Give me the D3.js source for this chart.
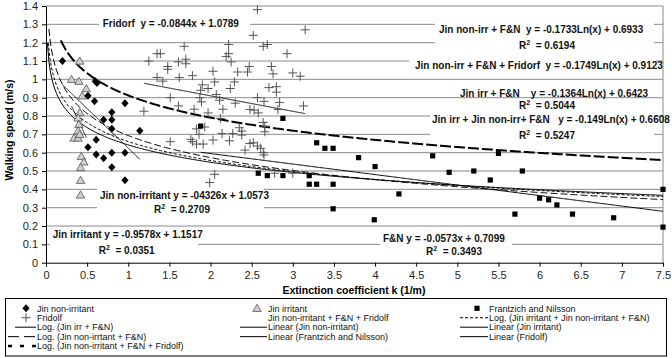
<!DOCTYPE html>
<html>
<head>
<meta charset="utf-8">
<script src="https://cdn.jsdelivr.net/npm/d3@7"></script>
<style>
body { margin: 0; background: #fff; }
svg { font-family: "Liberation Sans", Arial, sans-serif; }
</style>
</head>
<body>
<svg id="chart"></svg>
<script>
const width = 672;
const height = 358;

// points: [k (1/m), walking speed (m/s)]
const jinNonIrritant = [
  [0.20, 1.10], [0.60, 0.99], [0.62, 0.98], [0.51, 0.91], [0.59, 0.88], [0.96, 0.87],
  [0.80, 0.82], [0.80, 0.78], [0.70, 0.78], [0.80, 0.73], [1.14, 0.72], [0.61, 0.67],
  [0.51, 0.63], [0.61, 0.59], [0.70, 0.57], [0.80, 0.60], [0.96, 0.60], [0.80, 0.52],
  [0.96, 0.45]
];
const jinIrritant = [
  [0.41, 1.10], [0.31, 1.00], [0.40, 0.99], [0.49, 0.95], [0.44, 0.91], [0.41, 0.82],
  [0.39, 0.79], [0.40, 0.755], [0.39, 0.72], [0.34, 0.68], [0.39, 0.68], [0.41, 0.70],
  [0.43, 0.58], [0.46, 0.55], [0.42, 0.52], [0.42, 0.45], [0.42, 0.37]
];
const fridolf = [
  [2.57, 1.38], [3.15, 1.27], [2.52, 1.24], [2.22, 1.19], [1.68, 1.18], [2.64, 1.18],
  [2.69, 1.19], [1.35, 1.14], [1.39, 1.14], [2.19, 1.125], [2.22, 1.14], [2.93, 1.14],
  [1.61, 1.095], [1.70, 1.11], [1.70, 1.085], [2.25, 1.095], [2.47, 1.07], [2.74, 1.07],
  [1.48, 1.07], [1.48, 1.055], [2.03, 1.044], [2.33, 1.04], [2.45, 1.04], [2.76, 1.03],
  [3.00, 1.035], [3.09, 1.017], [1.35, 1.01], [1.42, 0.99], [1.62, 1.01], [1.78, 1.02],
  [2.05, 0.986], [2.29, 0.986], [2.24, 0.95], [1.90, 0.97], [1.97, 0.95], [1.88, 0.94],
  [2.07, 0.917], [2.71, 0.955], [2.80, 0.96], [2.80, 0.93], [1.51, 0.90], [1.87, 0.90],
  [1.89, 0.877], [2.11, 0.886], [2.30, 0.87], [2.57, 0.90], [2.65, 0.88], [2.84, 0.874],
  [3.13, 0.855], [1.61, 0.855], [1.80, 0.837], [2.15, 0.837], [2.12, 0.787], [2.48, 0.836],
  [2.53, 0.832], [2.58, 0.817], [2.82, 0.836], [1.97, 0.817], [2.64, 0.765], [2.66, 0.745],
  [2.66, 0.714], [1.83, 0.73], [1.93, 0.74], [1.86, 0.70], [2.14, 0.705], [2.27, 0.705],
  [2.35, 0.736], [2.38, 0.718], [2.38, 0.696], [1.51, 0.66], [1.76, 0.673], [1.78, 0.66],
  [1.83, 0.647], [1.91, 0.647], [2.03, 0.669], [2.23, 0.665], [2.48, 0.65], [2.52, 0.654],
  [2.57, 0.636], [2.61, 0.624], [2.64, 0.60], [2.65, 0.587], [2.42, 0.614], [2.78, 0.488],
  [3.00, 0.488], [2.05, 0.482], [1.99, 0.437], [1.25, 1.10], [1.19, 0.826]
];
const frantzichNilsson = [
  [1.88, 0.745], [2.88, 0.787], [3.29, 0.654], [3.39, 0.624], [3.49, 0.624], [2.58, 0.488],
  [2.69, 0.475], [2.88, 0.475], [3.20, 0.475], [3.20, 0.428], [3.29, 0.428], [3.49, 0.428],
  [3.80, 0.573], [4.00, 0.524], [4.70, 0.583], [4.90, 0.493], [5.20, 0.50], [5.40, 0.451],
  [5.50, 0.596], [5.79, 0.50], [4.29, 0.375], [3.49, 0.294], [3.99, 0.234], [5.70, 0.265],
  [6.00, 0.352], [6.11, 0.343], [6.21, 0.315], [6.40, 0.265], [6.90, 0.245], [7.50, 0.40],
  [7.50, 0.194]
];

const xTicks = [0, 0.5, 1, 1.5, 2, 2.5, 3, 3.5, 4, 4.5, 5, 5.5, 6, 6.5, 7, 7.5];
const yTicks = [0, 0.1, 0.2, 0.3, 0.4, 0.5, 0.6, 0.7, 0.8, 0.9, 1, 1.1, 1.2, 1.3, 1.4];

// trendlines as printed on the chart: [coefficient, intercept], and drawn k range
const fridolfFit = [-0.0844, 1.0789];          const fridolfRange = [1.19, 3.15];
const jinNonIrrFit = [-0.4326, 1.0573];        const jinNonIrrRange = [0.20, 1.14];
const jinIrrFit = [-0.9578, 1.1517];           const jinIrrRange = [0.31, 0.49];
const fnFit = [-0.0573, 0.7099];               const fnRange = [1.88, 7.5];
const logJinIrrFN = [-0.1364, 0.6423];         const logJinIrrFNRange = [0.017, 7.5];
const logJinNonIrrFN = [-0.1733, 0.6933];      const logJinNonIrrFNRange = [0.035, 7.5];
const logJinNonIrrFNFri = [-0.1749, 0.9123];   const logJinNonIrrFNFriRange = [0.18, 7.5];
const logAllJinFN = [-0.149, 0.6608];          const logAllJinFNRange = [0.027, 7.5];

const legendLabels = [
  'Jin non-irritant', 'Jin irritant', 'Frantzich and Nilsson',
  'Fridolf', 'Jin non-irritant + F&N + Fridolf', 'Log. (Jin irritant + Jin non-irritant + F&N)',
  'Log. (Jin irr + F&N)', 'Linear (Jin non-irritant)', 'Linear (Jin irritant)',
  'Log. (Jin non-irrtant + F&N)', 'Linear (Frantzich and Nilsson)', 'Linear (Fridolf)',
  'Log. (Jin non-irritant + F&N + Fridolf)'
];
const legendKeys = [
  'diamond', 'triangle', 'square',
  'cross', 'none', 'shortdash',
  'solid', 'solid', 'solid',
  'longdash', 'solid', 'solid',
  'heavydash'
];

const svg = d3.select('#chart').attr('width', width).attr('height', height);

const x = d3.scaleLinear().domain([0, 7.5]).range([46, 663]);
const y = d3.scaleLinear().domain([0, 1.4]).range([262.7, 6]);

const shapes = {
  diamond: 'M0,-4L3.6,0L0,4L-3.6,0Z',
  triangle: 'M0,-4L4.2,3.2L-4.2,3.2Z',
  square: 'M-2.6,-2.6H2.6V2.6H-2.6Z',
  cross: 'M-4.5,0H4.5M0,-4.5V4.5'
};
const dashes = { solid: null, shortdash: '3,2', longdash: '7,3', heavydash: '11,3' };

// keep runs of spaces the way the chart prints them
const keepSpaces = s => s.replace(/ {2,}/g, m => '\u00a0'.repeat(m.length - 1) + ' ');

// gridlines
svg.append('g').selectAll('line')
  .data(yTicks.filter(d => d > 0))
  .enter().append('line')
  .attr('x1', x(0)).attr('x2', x(7.5))
  .attr('y1', d => y(d)).attr('y2', d => y(d))
  .attr('stroke', '#8a8a8a').attr('stroke-width', 1);

svg.append('line')
  .attr('x1', x(7.5)).attr('x2', x(7.5)).attr('y1', y(1.4)).attr('y2', y(0))
  .attr('stroke', '#8a8a8a');

// white boxes behind the equation labels
const boxes = [
  [99, 17, 250, 31], [435, 19, 654, 52], [409, 57, 656, 73], [430, 112, 654, 142],
  [97, 186, 264, 216], [50, 229, 198, 258], [380, 230, 512, 258]
];
svg.append('g').selectAll('rect')
  .data(boxes)
  .enter().append('rect')
  .attr('x', d => d[0]).attr('y', d => d[1])
  .attr('width', d => d[2] - d[0]).attr('height', d => d[3] - d[1])
  .attr('fill', '#fff');

const labels = svg.append('g')
  .attr('font-size', 10).attr('font-weight', 'bold').attr('fill', '#111');

function eq(tx, ty, str, anchor) {
  labels.append('text').attr('x', tx).attr('y', ty)
    .attr('text-anchor', anchor || 'start').text(keepSpaces(str));
}
function r2(tx, ty, val) {
  const t = labels.append('text').attr('x', tx).attr('y', ty).attr('text-anchor', 'middle');
  t.append('tspan').text('R');
  t.append('tspan').attr('font-size', 7).attr('dy', -4).text('2');
  t.append('tspan').attr('dy', 4).text('\u00a0 = ' + val);
}

eq(102.7, 27, 'Fridorf  y = -0.0844x + 1.0789');
eq(439, 33, 'Jin non-irr + F&N  y = -0.1733Ln(x) + 0.6933');
r2(547, 48.5, '0.6194');
eq(415, 68.5, 'Jin non-irr + F&N + Fridorf  y = -0.1749Ln(x) + 0.9123');
eq(460, 97, 'Jin irr + F&N    y = -0.1364Ln(x) + 0.6423');
r2(547, 108.5, '0.5044');
eq(432, 123, 'Jin irr + Jin non-irr+ F&N   y = -0.149Ln(x) + 0.6608');
r2(547, 138.5, '0.5247');
eq(100, 198.5, 'Jin non-irritant y = -04326x + 1.0573');
r2(182, 213, '0.2709');
eq(52.7, 238, 'Jin irritant y = -0.9578x + 1.1517');
r2(126.7, 253.5, '0.0351');
eq(383, 241.5, 'F&N y = -0.0573x + 0.7099');
r2(454, 255, '0.3493');

// trendlines
function trend(coef, range, isLog, kind) {
  const steps = d3.range(0, 401).map(i => range[0] + (range[1] - range[0]) * i / 400);
  const line = d3.line()
    .x(k => x(k))
    .y(k => y(coef[0] * (isLog ? Math.log(k) : k) + coef[1]));
  svg.append('path')
    .datum(steps)
    .attr('fill', 'none')
    .attr('stroke', '#000')
    .attr('stroke-width', kind === 'heavydash' ? 2 : 1)
    .attr('stroke-dasharray', dashes[kind])
    .attr('d', line);
}

trend(logJinIrrFN, logJinIrrFNRange, true, 'solid');
trend(logJinNonIrrFN, logJinNonIrrFNRange, true, 'longdash');
trend(logAllJinFN, logAllJinFNRange, true, 'shortdash');
trend(logJinNonIrrFNFri, logJinNonIrrFNFriRange, true, 'heavydash');
trend(fridolfFit, fridolfRange, false, 'solid');
trend(jinNonIrrFit, jinNonIrrRange, false, 'solid');
trend(jinIrrFit, jinIrrRange, false, 'solid');
trend(fnFit, fnRange, false, 'solid');

// points
function points(data, shape, fill, stroke) {
  svg.append('g').selectAll('path')
    .data(data)
    .enter().append('path')
    .attr('transform', d => `translate(${x(d[0])},${y(d[1])})`)
    .attr('d', shapes[shape])
    .attr('fill', fill)
    .attr('stroke', stroke)
    .attr('stroke-width', shape === 'triangle' ? 0.8 : 1);
}

points(fridolf, 'cross', 'none', '#555');
points(frantzichNilsson, 'square', '#000', 'none');
points(jinIrritant, 'triangle', '#cfcfcf', '#555');
points(jinNonIrritant, 'diamond', '#000', 'none');

// axes
const xAxis = svg.append('g')
  .attr('transform', `translate(0, ${y(0)})`)
  .call(d3.axisBottom(x).tickValues(xTicks).tickSize(4).tickSizeOuter(0).tickPadding(5).tickFormat(d => String(d)));
const yAxis = svg.append('g')
  .attr('transform', `translate(${x(0)}, 0)`)
  .call(d3.axisLeft(y).tickValues(yTicks).tickSize(4).tickSizeOuter(0).tickPadding(4).tickFormat(d => String(d)));

[xAxis, yAxis].forEach(a => {
  a.attr('font-family', null).attr('font-size', 11);
  a.selectAll('text').attr('fill', '#222');
  a.selectAll('line, path').attr('stroke', '#000');
});

svg.append('text')
  .attr('x', 354).attr('y', 294)
  .attr('text-anchor', 'middle')
  .attr('font-size', 10.5).attr('font-weight', 'bold')
  .text('Extinction coefficient k (1/m)');

svg.append('text')
  .attr('transform', 'translate(13, 130) rotate(-90)')
  .attr('text-anchor', 'middle')
  .attr('font-size', 10.5).attr('font-weight', 'bold')
  .text('Walking speed (m/s)');

// legend
const legend = svg.append('g');
legend.append('rect')
  .attr('x', 5.5).attr('y', 298.5).attr('width', 661).attr('height', 57.5)
  .attr('fill', '#fff').attr('stroke', '#000');

const keyX = [26, 257, 477];
const textX = [37, 268, 489];
const lineX0 = [8, 240, 460];

legendLabels.forEach((label, i) => {
  const col = i % 3;
  const row = Math.floor(i / 3);
  const cy = 308.3 + row * 9.45;
  const kind = legendKeys[i];
  if (shapes[kind]) {
    legend.append('path')
      .attr('transform', `translate(${keyX[col]},${cy})`)
      .attr('d', shapes[kind])
      .attr('fill', kind === 'cross' ? 'none' : kind === 'triangle' ? '#cfcfcf' : '#000')
      .attr('stroke', kind === 'cross' || kind === 'triangle' ? '#555' : 'none')
      .attr('stroke-width', kind === 'triangle' ? 0.8 : 1);
  } else if (kind !== 'none') {
    const x0 = (kind === 'solid' && col === 0) ? 15 : lineX0[col];
    legend.append('line')
      .attr('x1', x0).attr('x2', textX[col] - 1)
      .attr('y1', cy).attr('y2', cy)
      .attr('stroke', '#000')
      .attr('stroke-width', kind === 'heavydash' ? 2.5 : 1)
      .attr('stroke-dasharray', kind === 'heavydash' ? '4,8' : kind === 'longdash' ? '11,5' : dashes[kind]);
  }
  legend.append('text')
    .attr('x', textX[col]).attr('y', cy + 3.2)
    .attr('font-size', 9).attr('fill', '#111')
    .text(label);
});
</script>
</body>
</html>
